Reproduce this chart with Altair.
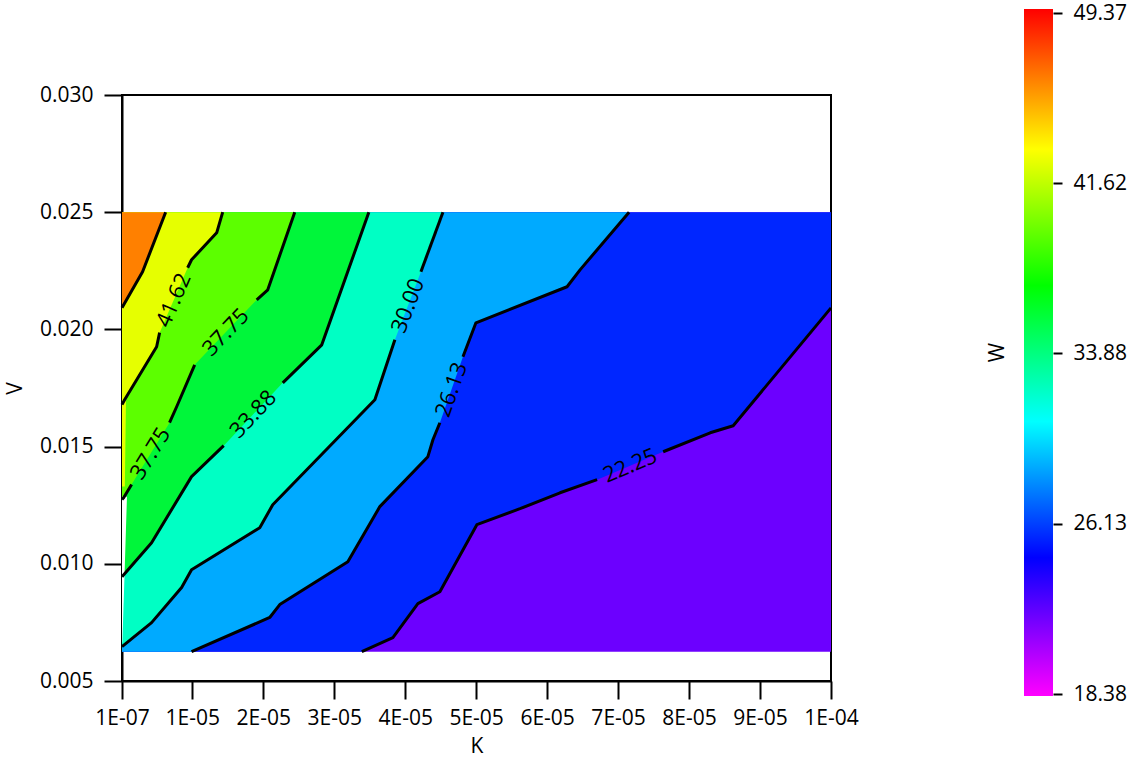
import math
import altair as alt
import pandas as pd

# Plot geometry (view size in pixels) and data extents
WIDTH, HEIGHT = 709, 586
K_AXIS = [1e-7, 1e-5, 2e-5, 3e-5, 4e-5, 5e-5, 6e-5, 7e-5, 8e-5, 9e-5, 1e-4]
V_AXIS = [0.005, 0.010, 0.015, 0.020, 0.025, 0.030]
K_MIN, K_MAX = 1e-7, 1e-4
V_MIN, V_MAX = 0.00625, 0.025

# Contour levels of W and the fill colour of each band
LEVELS = [22.25, 26.13, 30.00, 33.88, 37.75, 41.62, 45.50]
BAND_BELOW = "#6C00FF"
BAND_ABOVE = ["#0026FF", "#00AAFF", "#00FFC4", "#00F63A", "#5CFF00", "#E6FF00", "#FF8000"]

# Contour line vertices (K, V); BREAK_* = index after which the line is broken for its label
K_2225 = [3.389e-5, 3.827e-5, 4.179e-5, 4.489e-5, 5.010e-5, 5.618e-5, 6.182e-5, 6.704e-5,
          7.635e-5, 8.298e-5, 8.622e-5, 1.0e-4]
V_2225 = [0.00625, 0.00685, 0.00830, 0.00881, 0.01167, 0.01235, 0.01303, 0.01359,
          0.01478, 0.01559, 0.01589, 0.02092]
BREAK_2225 = [7]

K_2613 = [9.9e-6, 2.092e-5, 2.233e-5, 3.192e-5, 3.643e-5, 4.320e-5, 4.391e-5, 4.489e-5,
          4.814e-5, 4.997e-5, 6.281e-5, 6.464e-5, 7.155e-5]
V_2613 = [0.00625, 0.00771, 0.00826, 0.01009, 0.01244, 0.01457, 0.01529, 0.01602,
          0.01883, 0.02028, 0.02182, 0.02254, 0.02500]
BREAK_2613 = [7]

K_3000 = [1.0e-7, 4.27e-6, 8.5e-6, 9.9e-6, 1.951e-5, 2.134e-5, 3.573e-5, 3.855e-5,
          4.222e-5, 4.532e-5]
V_3000 = [0.00647, 0.00749, 0.00899, 0.00975, 0.01154, 0.01252, 0.01700, 0.01956,
          0.02246, 0.02500]
BREAK_3000 = [7]

K_3388 = [1.0e-7, 4.27e-6, 9.9e-6, 1.443e-5, 2.275e-5, 2.825e-5, 3.488e-5]
V_3388 = [0.00945, 0.01090, 0.01372, 0.01504, 0.01772, 0.01934, 0.02500]
BREAK_3388 = [3]

K_3775 = [1.0e-7, 3.3e-7, 1.45e-6, 6.8e-6, 7.8e-6, 1.034e-5, 1.908e-5, 2.064e-5, 2.444e-5]
V_3775 = [0.01274, 0.01282, 0.01338, 0.01602, 0.01670, 0.01849, 0.02126, 0.02169, 0.02500]
BREAK_3775 = [2, 5]

K_4162 = [1.0e-7, 4.7e-7, 4.98e-6, 5.4e-6, 9.35e-6, 9.9e-6, 1.344e-5, 1.429e-5]
V_4162 = [0.01679, 0.01700, 0.01926, 0.01986, 0.02263, 0.02297, 0.02412, 0.02500]
BREAK_4162 = [3]

K_4550 = [1.0e-7, 3.0e-6, 6.25e-6]
V_4550 = [0.02092, 0.02246, 0.02500]
BREAK_4550 = []

CONTOUR_K = [K_2225, K_2613, K_3000, K_3388, K_3775, K_4162, K_4550]
CONTOUR_V = [V_2225, V_2613, V_3000, V_3388, V_3775, V_4162, V_4550]
CONTOUR_BREAKS = [BREAK_2225, BREAK_2613, BREAK_3000, BREAK_3388, BREAK_3775, BREAK_4162, BREAK_4550]

# Unfilled / off-colour slivers along the first K column
WHITE_STRIP_V = [0.01286, 0.00945, 0.00664]
WHITE_STRIP_K = [8.0e-7, 4.5e-7, 1.5e-7]
YELLOW_STRIP_V = [0.01700, 0.01330]
YELLOW_STRIP_K = [6.6e-7, 5.0e-7]

# Colour bar: labelled values, and colour stops (the bar runs a little past both end labels)
W_TICKS = [18.38, 26.13, 33.88, 41.62, 49.37]
W_STOPS = [18.29, 24.58, 30.78, 36.97, 43.17, 49.55]
W_COLORS = ["#FF00FF", "#0000FF", "#00FFFF", "#00FF00", "#FFFF00", "#FF0000"]

FONT = "Open Sans"
FONT_SIZE = 21
PX_PER_K = WIDTH / (K_AXIS[-1] - K_AXIS[0])
PX_PER_V = HEIGHT / (V_AXIS[-1] - V_AXIS[0])

x_scale = alt.Scale(domain=[K_AXIS[0], K_AXIS[-1]], nice=False, zero=False)
y_scale = alt.Scale(domain=[V_AXIS[0], V_AXIS[-1]], nice=False, zero=False)
x_axis = alt.Axis(title="K", values=K_AXIS,
                  labelExpr="replace(upper(format(datum.value, '.0e')), 'E-', 'E-0')",
                  labelOverlap=False, labelFlush=False, labelPadding=8, titlePadding=7)
y_axis = alt.Axis(title="V", values=V_AXIS, format=".3f", labelOverlap=False,
                  labelFlush=False, labelPadding=11, titlePadding=14)


def xenc(field="K"):
    return alt.X(f"{field}:Q", scale=x_scale, axis=x_axis)


def yenc(field="V"):
    return alt.Y(f"{field}:Q", scale=y_scale, axis=y_axis)


layers = []

# Lowest band fills the whole data rectangle
base = pd.DataFrame({"K": [K_MIN], "K2": [K_MAX], "V": [V_MIN], "V2": [V_MAX]})
layers.append(
    alt.Chart(base).mark_rect(color=BAND_BELOW).encode(
        x=xenc(), x2="K2:Q", y=yenc(), y2="V2:Q"
    )
)

# Each band above a contour is painted over the previous ones
for ks, vs, color in zip(CONTOUR_K, CONTOUR_V, BAND_ABOVE):
    pk, pv = list(ks), list(vs)
    if pv[0] <= V_MIN and pk[0] > K_MIN:
        pk.insert(0, K_MIN)
        pv.insert(0, V_MIN)
    df = pd.DataFrame({"K": pk, "V": pv})
    layers.append(
        alt.Chart(df).mark_area(color=color, orient="vertical", interpolate="linear").encode(
            x=xenc(), y=yenc(), y2=alt.Y2Datum(V_MAX)
        )
    )

# Slivers at the left edge
strip_white = pd.DataFrame({"K": WHITE_STRIP_K, "V": WHITE_STRIP_V})
strip_yellow = pd.DataFrame({"K": YELLOW_STRIP_K, "V": YELLOW_STRIP_V})
for df, color in [(strip_yellow, BAND_ABOVE[5]), (strip_white, "#FFFFFF")]:
    layers.append(
        alt.Chart(df).mark_area(color=color, orient="horizontal").encode(
            x=xenc(), x2=alt.X2Datum(K_MIN), y=yenc()
        )
    )

# Contour lines, broken where the labels sit
line_rows, label_rows = [], []
for level, ks, vs, breaks in zip(LEVELS, CONTOUR_K, CONTOUR_V, CONTOUR_BREAKS):
    seg = 0
    for i, (k, v) in enumerate(zip(ks, vs)):
        line_rows.append({"seg": f"{level:.2f}-{seg}", "i": i, "K": k, "V": v})
        if i in breaks:
            seg += 1
    for b in breaks:
        k1, v1, k2, v2 = ks[b], vs[b], ks[b + 1], vs[b + 1]
        ang = math.degrees(math.atan2(-(v2 - v1) * PX_PER_V, (k2 - k1) * PX_PER_K)) % 360
        label_rows.append({"K": (k1 + k2) / 2, "V": (v1 + v2) / 2,
                           "text": f"{level:.2f}", "ang": ang})

layers.append(
    alt.Chart(pd.DataFrame(line_rows)).mark_line(
        color="black", strokeWidth=3, strokeJoin="round"
    ).encode(
        x=xenc(), y=yenc(), detail="seg:N", order="i:Q"
    )
)
layers.append(
    alt.Chart(pd.DataFrame(label_rows)).mark_text(
        font=FONT, fontSize=22, color="black", align="center", baseline="middle"
    ).encode(
        x=xenc(), y=yenc(), text="text:N", angle=alt.Angle("ang:Q", scale=None)
    )
)

contour = alt.layer(*layers)

# Colour bar for W, on its own scales placed to the right of the plot
bar_lo, bar_hi = W_STOPS[0], W_STOPS[-1]
bar_fill = alt.LinearGradient(
    gradient="linear",
    stops=[alt.GradientStop(offset=(w - bar_lo) / (bar_hi - bar_lo), color=c)
           for w, c in zip(W_STOPS, W_COLORS)],
    x1=0, y1=1, x2=0, y2=0,
)
bar_df = pd.DataFrame({"x0": [0], "x1": [1], "lo": [bar_lo], "hi": [bar_hi]})
colorbar = alt.Chart(bar_df).mark_rect(fill=bar_fill).encode(
    x=alt.X("x0:Q", scale=alt.Scale(domain=[0, 1], range=[902, 931]), axis=None),
    x2="x1:Q",
    y=alt.Y(
        "lo:Q",
        scale=alt.Scale(domain=[W_TICKS[0], W_TICKS[-1]], range=[599, -82],
                        nice=False, zero=False),
        axis=alt.Axis(
            orient="right", offset=222, values=W_TICKS, format=".2f", domain=False,
            tickSize=9, labelPadding=11, labelOverlap=False, labelFlush=False,
            title="W", titleX=-56, titleY=257, titleAngle=270,
            titleAlign="center", titleBaseline="middle",
        ),
    ),
    y2="hi:Q",
)

chart = alt.layer(contour, colorbar).resolve_scale(
    x="independent", y="independent"
).properties(
    width=WIDTH, height=HEIGHT,
    padding={"left": 122, "top": 95, "right": 300, "bottom": 76},
    autosize=alt.AutoSizeParams(type="none"),
    background="white",
).configure_view(
    stroke="black", strokeWidth=2
).configure_axis(
    labelFont=FONT, labelFontSize=FONT_SIZE, labelColor="black",
    titleFont=FONT, titleFontSize=FONT_SIZE, titleFontWeight="normal", titleColor="black",
    domainColor="black", domainWidth=2, tickColor="black", tickWidth=2, tickSize=18,
    grid=False,
)

chart.save("out.html", embed_options={"renderer": "svg", "actions": False})
